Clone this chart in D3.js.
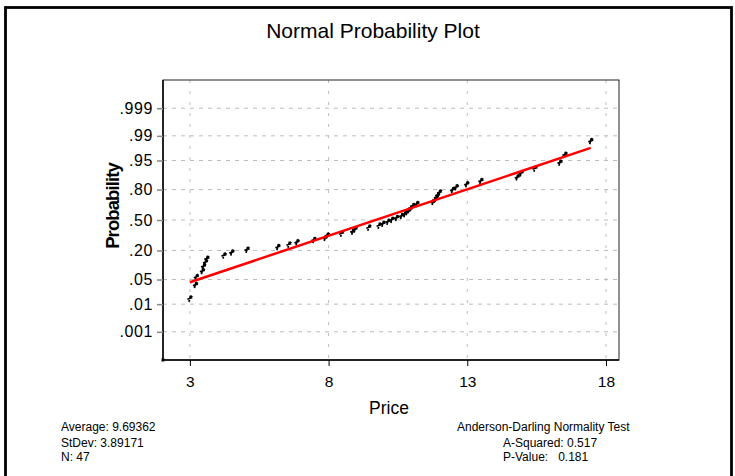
<!DOCTYPE html>
<html>
<head>
<meta charset="utf-8">
<script src="https://cdn.jsdelivr.net/npm/d3@7"></script>
<style>
  html, body { margin: 0; padding: 0; background: #fff; }
  svg { display: block; font-family: "Liberation Sans", Arial, sans-serif; }
</style>
</head>
<body>
<svg id="chart" width="735" height="476"></svg>
<script>
// Observed prices, sorted ascending (n = 47)
const prices = [
  3.00, 3.20, 3.23, 3.45, 3.49, 3.56, 3.61, 4.23, 4.51, 5.06,
  6.17, 6.57, 6.86, 7.47, 7.88, 7.95, 8.47, 8.87, 8.95, 9.45,
  9.82, 9.96, 10.14, 10.28, 10.45, 10.63, 10.75, 10.83, 10.90, 10.97,
  11.04, 11.18, 11.77, 11.84, 11.89, 11.93, 12.00, 12.47, 12.60, 12.98,
  13.49, 14.80, 14.94, 15.44, 16.34, 16.52, 17.45
];

// Summary statistics printed under the plot
const average = 9.69362;
const stDev = 3.89171;
const nObs = 47;
const aSquared = 0.517;
const pValue = 0.181;

// Axis ticks
const xTicks = [3, 8, 13, 18];
const probTicks = [0.001, 0.01, 0.05, 0.20, 0.50, 0.80, 0.95, 0.99, 0.999];
const probLabels = [".001", ".01", ".05", ".20", ".50", ".80", ".95", ".99", ".999"];

// Inverse standard normal CDF (Acklam's rational approximation)
function qnorm(p) {
  const a = [-3.969683028665376e+01, 2.209460984245205e+02, -2.759285104469687e+02,
             1.383577518672690e+02, -3.066479806614716e+01, 2.506628277459239e+00];
  const b = [-5.447609879822406e+01, 1.615858368580409e+02, -1.556989798598866e+02,
             6.680131188771972e+01, -1.328068155288572e+01];
  const c = [-7.784894002430293e-03, -3.223964580411365e-01, -2.400758277161838e+00,
             -2.549732539343734e+00, 4.374664141464968e+00, 2.938163982698783e+00];
  const d = [7.784695709041462e-03, 3.224671290700398e-01, 2.445134137142996e+00,
             3.754408661907416e+00];
  const pl = 0.02425, ph = 1 - pl;
  let q, r;
  if (p < pl) {
    q = Math.sqrt(-2 * Math.log(p));
    return (((((c[0]*q+c[1])*q+c[2])*q+c[3])*q+c[4])*q+c[5]) /
           ((((d[0]*q+d[1])*q+d[2])*q+d[3])*q+1);
  }
  if (p <= ph) {
    q = p - 0.5; r = q * q;
    return (((((a[0]*r+a[1])*r+a[2])*r+a[3])*r+a[4])*r+a[5])*q /
           (((((b[0]*r+b[1])*r+b[2])*r+b[3])*r+b[4])*r+1);
  }
  q = Math.sqrt(-2 * Math.log(1 - p));
  return -(((((c[0]*q+c[1])*q+c[2])*q+c[3])*q+c[4])*q+c[5]) /
          ((((d[0]*q+d[1])*q+d[2])*q+d[3])*q+1);
}

(function draw() {
  const svg = d3.select("#chart");

  // Outer frame
  svg.append("rect")
    .attr("x", 5.5).attr("y", 7.5).attr("width", 726).attr("height", 500)
    .attr("fill", "none").attr("stroke", "#000").attr("stroke-width", 2.8);

  // Title
  svg.append("text")
    .attr("x", 373).attr("y", 38)
    .attr("text-anchor", "middle")
    .attr("font-size", 21)
    .text("Normal Probability Plot");

  // Plot area
  const pLeft = 163, pRight = 619, pTop = 80, pBottom = 360;
  const x = d3.scaleLinear().domain([2.03, 18.47]).range([pLeft, pRight]);
  const y = d3.scaleLinear().domain([-3.87, 3.87]).range([pBottom, pTop]);

  // Grid lines
  const grid = svg.append("g");
  grid.selectAll("line.h").data(probTicks).join("line")
    .attr("class", "h")
    .attr("x1", pLeft).attr("x2", pRight)
    .attr("y1", d => y(qnorm(d))).attr("y2", d => y(qnorm(d)))
    .attr("stroke", "#bdbdbd").attr("stroke-width", 1)
    .attr("stroke-dasharray", "4,5");
  grid.selectAll("line.v").data(xTicks).join("line")
    .attr("class", "v")
    .attr("x1", d => x(d)).attr("x2", d => x(d))
    .attr("y1", pTop).attr("y2", pBottom)
    .attr("stroke", "#bdbdbd").attr("stroke-width", 1)
    .attr("stroke-dasharray", "3,8");

  // Plot frame
  svg.append("rect")
    .attr("x", pLeft).attr("y", pTop)
    .attr("width", pRight - pLeft).attr("height", pBottom - pTop)
    .attr("fill", "none").attr("stroke", "#222").attr("stroke-width", 1);
  svg.append("path")
    .attr("d", `M${pLeft},${pTop}V${pBottom}H${pRight}`)
    .attr("fill", "none").attr("stroke", "#000").attr("stroke-width", 1.5);
  svg.append("rect")
    .attr("x", pLeft - 1.5).attr("y", pBottom - 1.5).attr("width", 3).attr("height", 3)
    .attr("fill", "#000");

  // Y axis: probability scale
  const yAxis = svg.append("g")
    .attr("transform", `translate(${pLeft},0)`)
    .call(d3.axisLeft(y)
      .tickValues(probTicks.map(qnorm))
      .tickFormat((d, i) => probLabels[i])
      .tickSize(6).tickPadding(4));
  yAxis.select(".domain").remove();
  yAxis.selectAll(".tick line").attr("stroke", "#888").attr("stroke-width", 1.5);
  yAxis.selectAll(".tick text")
    .attr("font-size", 16).attr("letter-spacing", 0.6)
    .attr("font-family", "Liberation Sans, Arial, sans-serif")
    .attr("fill", "#000");

  // X axis
  const xAxis = svg.append("g")
    .attr("transform", `translate(0,${pBottom})`)
    .call(d3.axisBottom(x).tickValues(xTicks).tickFormat(d3.format("d"))
      .tickSize(6).tickPadding(10));
  xAxis.select(".domain").remove();
  xAxis.selectAll(".tick line").attr("stroke", "#000").attr("stroke-width", 1);
  xAxis.selectAll(".tick text")
    .attr("font-size", 15.5)
    .attr("font-family", "Liberation Sans, Arial, sans-serif")
    .attr("fill", "#000");

  // Axis titles
  svg.append("text")
    .attr("x", 389).attr("y", 414)
    .attr("text-anchor", "middle").attr("font-size", 17.5)
    .text("Price");
  svg.append("text")
    .attr("transform", "translate(119,206) rotate(-90)")
    .attr("text-anchor", "middle").attr("font-size", 18.5)
    .attr("font-weight", "bold").attr("letter-spacing", -0.9)
    .text("Probability");

  // Data points at median-rank plotting positions
  const n = prices.length;
  const pts = prices.map((v, i) => ({ v, z: qnorm((i + 1 - 0.3) / (n + 0.4)) }));
  svg.append("g").selectAll("path").data(pts).join("path")
    .attr("transform", d => `translate(${x(d.v)},${y(d.z)})`)
    .attr("d", "M-1,3L0.5,-3M-2.5,0.5L2.5,-1.2M0.5,-3L2.5,-1.5")
    .attr("fill", "none").attr("stroke", "#000").attr("stroke-width", 1.7);

  // Fitted normal line from the stated mean and standard deviation
  const xMin = d3.min(prices), xMax = d3.max(prices);
  svg.append("line")
    .attr("x1", x(xMin)).attr("y1", y((xMin - average) / stDev))
    .attr("x2", x(xMax)).attr("y2", y((xMax - average) / stDev))
    .attr("stroke", "#ff0000").attr("stroke-width", 2.5);

  // Summary statistics
  const stats = svg.append("g").attr("font-size", 12);
  stats.append("text").attr("x", 61).attr("y", 431).text(`Average: ${average}`);
  stats.append("text").attr("x", 61).attr("y", 447).text(`StDev: ${stDev}`);
  stats.append("text").attr("x", 61).attr("y", 461).text(`N: ${nObs}`);
  stats.append("text").attr("x", 457).attr("y", 431).text("Anderson-Darling Normality Test");
  stats.append("text").attr("x", 503).attr("y", 447).text(`A-Squared: ${aSquared}`);
  stats.append("text").attr("x", 503).attr("y", 461).attr("xml:space", "preserve")
    .text(`P-Value:   ${pValue}`);
})();
</script>
</body>
</html>
